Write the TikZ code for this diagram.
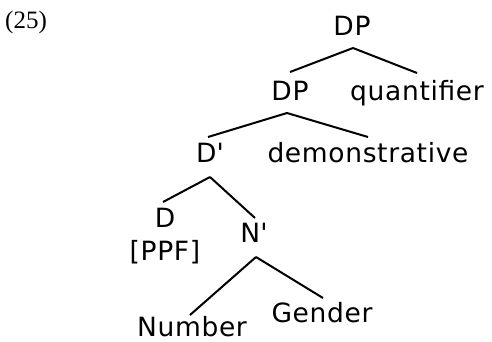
\documentclass[tikz,border=0pt]{standalone}
\usepackage{fontspec}
\setmainfont{DejaVu Sans}[LetterSpace=2.5]
\newfontfamily\numfont{Liberation Serif}
\begin{document}
\begin{tikzpicture}[x=1pt,y=-1pt,
  word/.style={anchor=base,inner sep=0pt,font=\fontsize{26.5}{30}\selectfont},
  branch/.style={line width=2pt}]
\useasboundingbox (0,0) rectangle (492,341);
% example number
\node[anchor=base west,inner sep=0pt,font=\numfont\fontsize{25}{28}\selectfont] (ex) at (5,28) {(25)};
% tree labels
\node[word] (dp)   at (352,35)  {DP};
\node[word] (dp2)  at (290,100) {DP};
\node[word] (q)    at (417,100) {quantifier};
\node[word] (dbar) at (210,162) {D\textquotesingle};
\node[word] (dem)  at (368,162) {demonstrative};
\node[word] (d)    at (165,227) {D};
\node[word] (ppf)  at (165,260) {[PPF]};
\node[word] (nbar) at (254,242) {N\textquotesingle};
\node[word] (num)  at (192,336) {Number};
\node[word] (gen)  at (322,322) {Gender};
% branches
\draw[branch] ([xshift=1pt,yshift=-13pt]dp.base) -- ([yshift=28pt]dp2.base);
\draw[branch] ([xshift=1pt,yshift=-13pt]dp.base) -- ([yshift=27pt]q.base);
\draw[branch] ([xshift=-3pt,yshift=-13pt]dp2.base) -- ([xshift=-2pt,yshift=25pt]dbar.base);
\draw[branch] ([xshift=-3pt,yshift=-13pt]dp2.base) -- ([yshift=25pt]dem.base);
\draw[branch] ([yshift=-15pt]dbar.base) -- ([xshift=-2pt,yshift=25pt]d.base);
\draw[branch] ([yshift=-15pt]dbar.base) -- ([xshift=1pt,yshift=24pt]nbar.base);
\draw[branch] ([xshift=2pt,yshift=-15pt]nbar.base) -- ([xshift=-2pt,yshift=21pt]num.base);
\draw[branch] ([xshift=2pt,yshift=-15pt]nbar.base) -- ([xshift=1pt,yshift=24pt]gen.base);
\end{tikzpicture}
\end{document}
